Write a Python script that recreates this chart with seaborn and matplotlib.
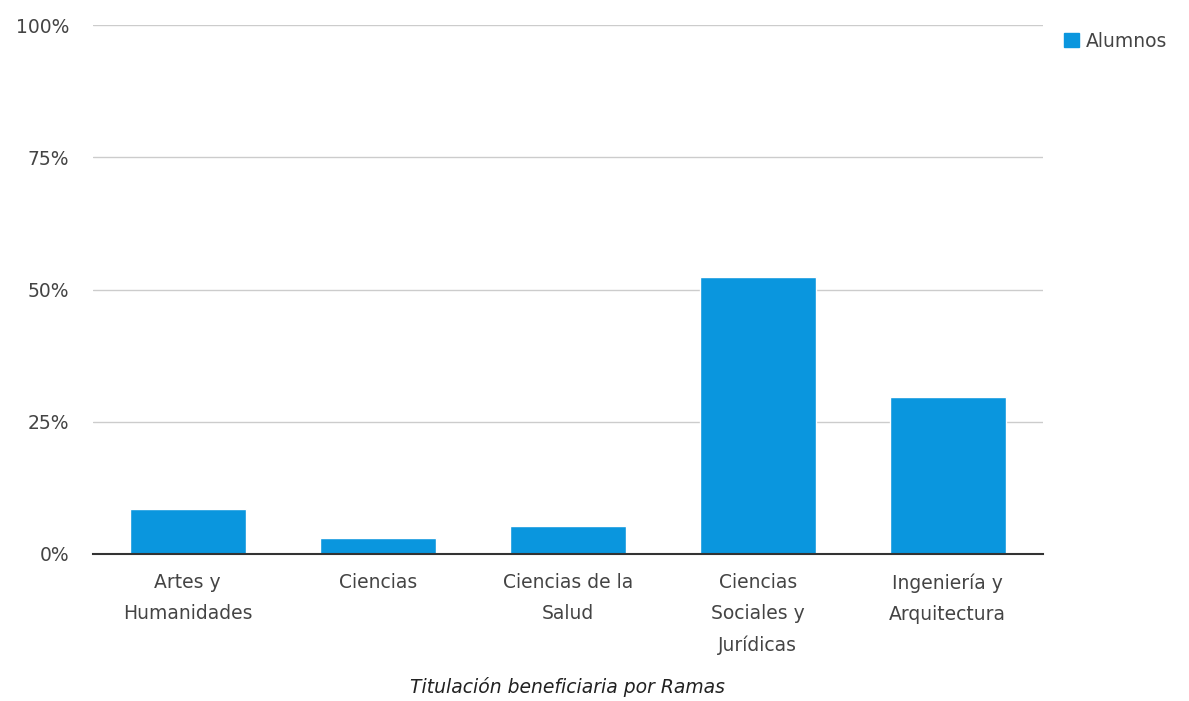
# Titulacion beneficiaria por Ramas - bar chart

import pandas as pd
import seaborn as sns
import matplotlib.pyplot as plt
from matplotlib.patches import Patch
from matplotlib.ticker import PercentFormatter

# data
ramas = [
    "Artes y\nHumanidades",
    "Ciencias",
    "Ciencias de la\nSalud",
    "Ciencias\nSociales y\nJurídicas",
    "Ingeniería y\nArquitectura",
]
alumnos = [8.45, 2.95, 5.25, 52.3, 29.6]
y_ticks = [0, 25, 50, 75, 100]

df = pd.DataFrame({"Rama": ramas, "Alumnos": alumnos})

bar_color = "#0A96DE"
text_color = "#444444"

sns.set_theme(style="white")
plt.rcParams["font.family"] = ["DejaVu Sans"]

fig = plt.figure(figsize=(11.89, 7.01), dpi=100)
ax = fig.add_axes([0.078, 0.21, 0.799, 0.754])

sns.barplot(data=df, x="Rama", y="Alumnos", color=bar_color,
            width=0.61, saturation=1, ax=ax)

ax.set_ylim(0, 100)
ax.set_yticks(y_ticks)
ax.yaxis.set_major_formatter(PercentFormatter(decimals=0))
ax.grid(axis="y", color="#cccccc", linewidth=1)
ax.set_axisbelow(True)

for s in ["top", "right", "left"]:
    ax.spines[s].set_visible(False)
ax.spines["bottom"].set_color("#333333")
ax.spines["bottom"].set_linewidth(1.5)

ax.tick_params(axis="both", length=0, labelsize=13.5, labelcolor=text_color)
ax.tick_params(axis="y", pad=17)
ax.tick_params(axis="x", pad=14)
for lbl in ax.get_xticklabels():
    lbl.set_linespacing(1.8)

ax.set_ylabel("")
ax.set_xlabel("Titulación beneficiaria por Ramas", fontsize=13.5,
              style="italic", color="#222222", labelpad=16)

ax.legend(handles=[Patch(color=bar_color, label="Alumnos")],
          loc="upper left", bbox_to_anchor=(1.005, 1.02), frameon=False,
          fontsize=13.5, handlelength=0.8, handleheight=0.8,
          handletextpad=0.35, labelcolor=text_color)

plt.savefig("out.png", dpi=100)
